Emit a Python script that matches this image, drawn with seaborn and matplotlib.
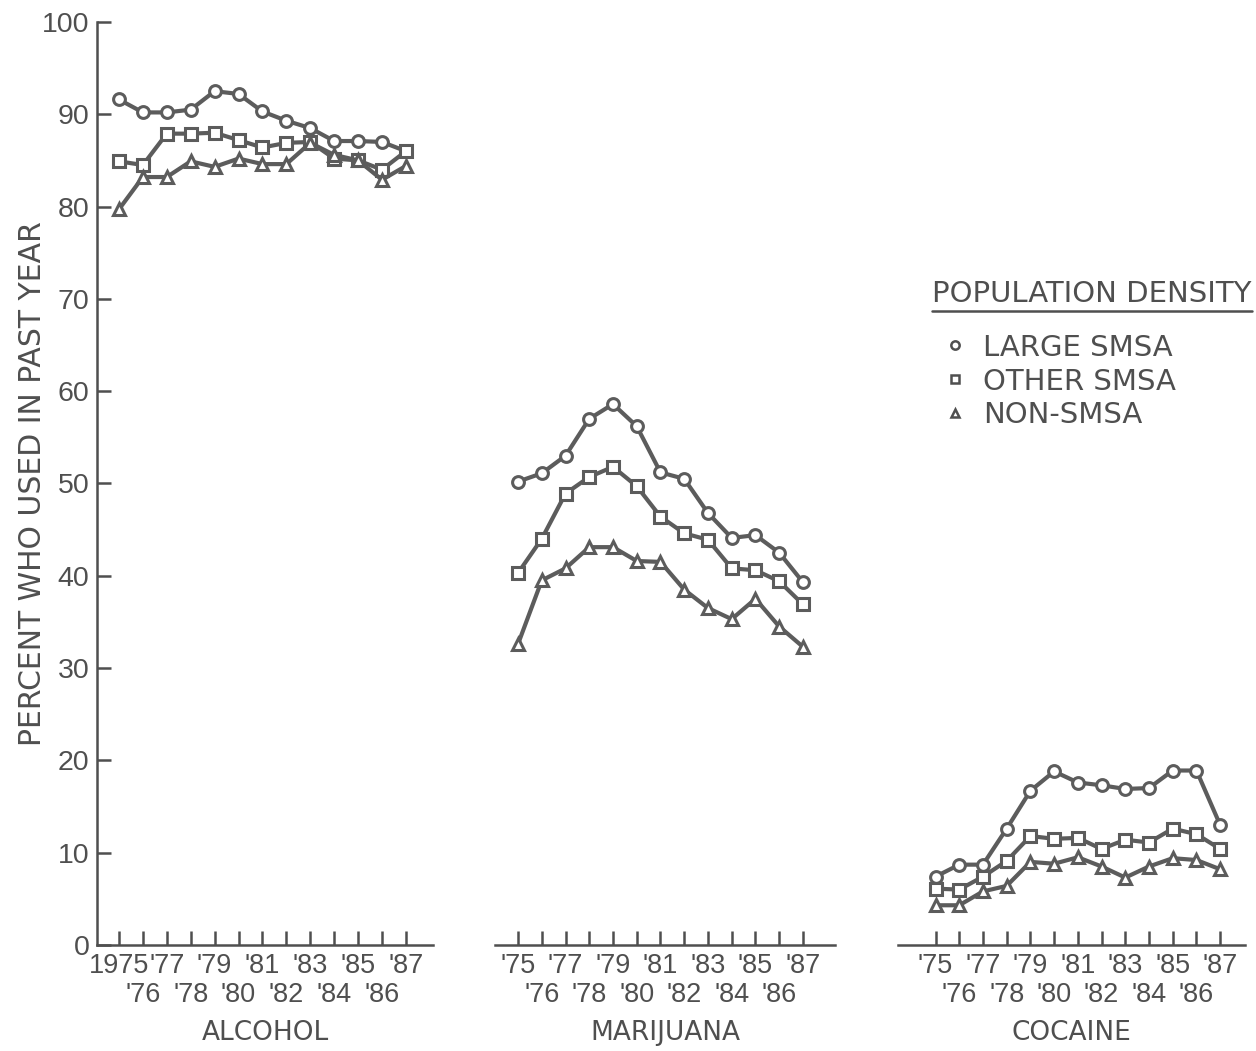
import matplotlib
matplotlib.use("Agg")
import matplotlib.pyplot as plt
from matplotlib.lines import Line2D
import pandas as pd
import seaborn as sns

# Survey years and groups
years = list(range(1975, 1988))
substances = ["ALCOHOL", "MARIJUANA", "COCAINE"]
groups = ["LARGE SMSA", "OTHER SMSA", "NON-SMSA"]

# Percent who used in past year, by population density
alcohol_large = [91.6, 90.2, 90.2, 90.5, 92.5, 92.2, 90.3, 89.3, 88.5, 87.1, 87.1, 87.0, 86.0]
alcohol_other = [84.9, 84.5, 87.9, 87.9, 88.0, 87.2, 86.4, 86.9, 87.0, 85.2, 85.0, 84.0, 86.0]
alcohol_non = [79.7, 83.2, 83.2, 84.9, 84.3, 85.2, 84.6, 84.6, 86.9, 85.6, 85.0, 82.9, 84.4]

marijuana_large = [50.2, 51.1, 53.0, 57.0, 58.6, 56.2, 51.2, 50.5, 46.8, 44.1, 44.4, 42.5, 39.3]
marijuana_other = [40.3, 44.0, 48.9, 50.7, 51.8, 49.7, 46.4, 44.6, 43.9, 40.8, 40.6, 39.4, 36.9]
marijuana_non = [32.6, 39.5, 40.8, 43.1, 43.1, 41.6, 41.5, 38.5, 36.5, 35.3, 37.5, 34.5, 32.3]

cocaine_large = [7.4, 8.7, 8.7, 12.6, 16.7, 18.8, 17.6, 17.3, 16.9, 17.0, 18.9, 18.9, 13.0]
cocaine_other = [6.1, 6.0, 7.4, 9.1, 11.8, 11.5, 11.6, 10.4, 11.4, 11.1, 12.6, 12.0, 10.4]
cocaine_non = [4.3, 4.3, 5.8, 6.4, 9.0, 8.8, 9.5, 8.5, 7.3, 8.5, 9.4, 9.2, 8.2]

series = {
    "ALCOHOL": [alcohol_large, alcohol_other, alcohol_non],
    "MARIJUANA": [marijuana_large, marijuana_other, marijuana_non],
    "COCAINE": [cocaine_large, cocaine_other, cocaine_non],
}

y_ticks = list(range(0, 101, 10))
first_year_labels = {"ALCOHOL": "1975", "MARIJUANA": "'75", "COCAINE": "'75"}

rows = []
for sub in substances:
    for grp, vals in zip(groups, series[sub]):
        for yr, v in zip(years, vals):
            rows.append({"substance": sub, "group": grp, "year": yr, "percent": v})
df = pd.DataFrame(rows)

sns.set_theme(style="white")
plt.rcParams["font.family"] = ["DejaVu Sans"]

INK = "#4f4f4f"
LINE = "#5c5c5c"
NUM_FONT = "Liberation Sans"
markers = {"LARGE SMSA": "o", "OTHER SMSA": "s", "NON-SMSA": "^"}

fig = plt.figure(figsize=(12.56, 10.51), dpi=100)
fig.patch.set_facecolor("white")

bottom, height = 0.1009, 0.8782
panels = [
    ("ALCOHOL", [0.0772, bottom, 0.2675, height], (1974.08, 1988.13)),
    ("MARIJUANA", [0.3941, bottom, 0.2707, height], (1974.03, 1988.35)),
    ("COCAINE", [0.7150, bottom, 0.2763, height], (1973.42, 1988.05)),
]

odd_years = [y for y in years if y % 2 == 1]
even_years = [y for y in years if y % 2 == 0]

axes = []
for i, (sub, rect, xlim) in enumerate(panels):
    ax = fig.add_axes(rect)
    ax.set_facecolor("white")
    data = df[df["substance"] == sub]
    sns.lineplot(
        data=data, x="year", y="percent", style="group", style_order=groups,
        markers=markers, dashes=False, color=LINE, linewidth=3.0,
        markersize=8.5, markerfacecolor="white", markeredgecolor=LINE,
        markeredgewidth=2.2, legend=False, ax=ax,
    )
    ax.set_xlim(*xlim)
    ax.set_ylim(0, 100)

    # odd years on the upper row, even years staggered below
    odd_labels = [first_year_labels[sub] if y == 1975 else "'" + str(y)[2:]
                  for y in odd_years]
    even_labels = ["'" + str(y)[2:] for y in even_years]
    ax.set_xticks(odd_years)
    ax.set_xticklabels(odd_labels, fontsize=19.5, color=INK, family=NUM_FONT)
    ax.set_xticks(even_years, minor=True)
    ax.set_xticklabels(even_labels, minor=True, fontsize=19.5, color=INK,
                       family=NUM_FONT)
    ax.tick_params(axis="x", which="both", direction="in", length=10,
                   width=1.8, color=INK, bottom=True)
    ax.tick_params(axis="x", which="major", pad=6)
    ax.tick_params(axis="x", which="minor", pad=27)
    ax.set_xlabel(sub, fontsize=19, color=INK, labelpad=8)

    for side in ["top", "right"]:
        ax.spines[side].set_visible(False)
    ax.spines["bottom"].set_color(INK)
    ax.spines["bottom"].set_linewidth(1.8)

    if i == 0:
        ax.spines["left"].set_color(INK)
        ax.spines["left"].set_linewidth(1.8)
        ax.set_yticks(y_ticks)
        ax.set_yticklabels([str(t) for t in y_ticks], fontsize=20.5, color=INK,
                           family=NUM_FONT)
        ax.tick_params(axis="y", direction="in", length=10, width=1.8,
                       color=INK, pad=5.5, left=True)
        ax.set_ylabel("PERCENT WHO USED IN PAST YEAR", fontsize=21.5,
                      color=INK, labelpad=-4)
    else:
        ax.spines["left"].set_visible(False)
        ax.set_yticks([])
        ax.set_ylabel("")
    axes.append(ax)

# legend: underlined heading plus marker keys
fig.text(0.7420, 0.7200, "POPULATION DENSITY", fontsize=21, color=INK,
         ha="left", va="center")
fig.add_artist(Line2D([0.7420, 0.9970], [0.7040, 0.7040],
                      transform=fig.transFigure, color=INK, linewidth=1.8))
handles = [
    Line2D([], [], marker=markers[g], linestyle="none", markersize=6,
           markerfacecolor="white", markeredgecolor=INK, markeredgewidth=1.8)
    for g in groups
]
fig.legend(handles, groups, loc="upper left", bbox_to_anchor=(0.7490, 0.6825),
           frameon=False, fontsize=21, labelcolor=INK, handlelength=0.95,
           handletextpad=0.5, labelspacing=0.2, borderpad=0, borderaxespad=0)

fig.savefig("out.png", dpi=100, facecolor="white")
